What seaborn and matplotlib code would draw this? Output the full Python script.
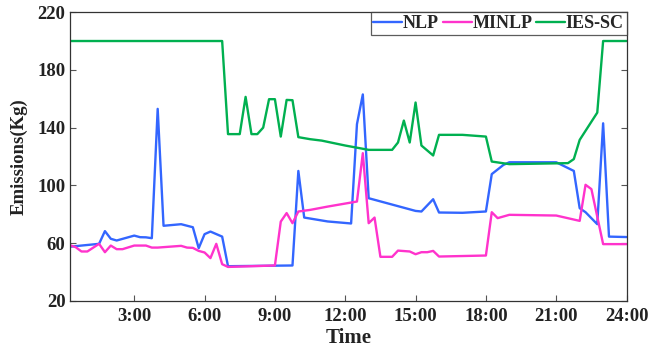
import matplotlib
matplotlib.use("Agg")
import matplotlib.pyplot as plt
import seaborn as sns
import pandas as pd

# NLP series (time in hours, emissions in kg)
nlp_t = [0.25, 1.5, 1.75, 2.0, 2.25, 3.0, 3.25, 3.5, 3.75, 4.0, 4.25, 5.0, 5.5, 5.75,
         6.0, 6.25, 6.75, 7.0, 9.75, 10.0, 10.25, 11.25, 12.25, 12.5, 12.75, 13.0,
         15.0, 15.25, 15.75, 16.0, 17.0, 18.0, 18.25, 18.75, 19.0, 21.0, 21.75, 22.0,
         22.25, 22.75, 23.0, 23.25, 24.0]
nlp_v = [57.5, 59.5, 68.3, 63.0, 61.8, 65.2, 64.1, 64.0, 63.4, 153.0, 72.0, 73.1, 71.0, 56.5,
         66.2, 68.0, 64.5, 44.0, 44.5, 110.0, 77.7, 75.0, 73.6, 142.4, 163.0, 91.1,
         82.3, 81.9, 90.4, 81.2, 81.0, 81.9, 107.8, 114.2, 116.0, 116.0, 110.0, 84.2,
         81.4, 73.1, 143.0, 64.5, 64.2]

# MINLP series
minlp_t = [0.25, 0.5, 0.75, 1.0, 1.5, 1.75, 2.0, 2.25, 2.5, 3.0, 3.5, 3.75, 4.0, 5.0, 5.25,
           5.5, 5.75, 6.0, 6.25, 6.5, 6.75, 7.0, 9.0, 9.25, 9.5, 9.75, 10.0, 10.5, 11.25,
           12.5, 12.75, 13.0, 13.25, 13.5, 14.0, 14.25, 14.75, 15.0, 15.25, 15.5, 15.75,
           16.0, 18.0, 18.25, 18.5, 19.0, 21.0, 22.0, 22.25, 22.5, 23.0, 24.0]
minlp_v = [58.6, 57.2, 54.2, 54.2, 59.5, 53.7, 58.3, 55.8, 55.8, 58.3, 58.3, 56.9, 56.9, 58.1,
           56.9, 56.7, 54.6, 53.5, 49.6, 59.5, 45.4, 43.5, 44.5, 74.9, 80.8, 73.8, 81.9,
           83.0, 85.3, 88.8, 122.3, 73.8, 77.7, 50.5, 50.5, 54.8, 54.2, 52.3, 53.7, 53.7,
           54.6, 50.7, 51.4, 81.4, 77.3, 79.6, 79.1, 75.4, 100.4, 97.4, 59.3, 59.3]

# IES-SC series
ies_t = [0.25, 6.75, 7.0, 7.5, 7.75, 8.0, 8.25, 8.5, 8.75, 9.0, 9.25, 9.5, 9.75, 10.0,
         10.5, 11.0, 12.0, 13.0, 14.0, 14.25, 14.5, 14.75, 15.0, 15.25, 15.75, 16.0,
         17.0, 18.0, 18.25, 19.0, 21.5, 21.75, 22.0, 22.75, 23.0, 24.0]
ies_v = [200.0, 200.0, 135.5, 135.5, 161.3, 135.5, 135.5, 140.0, 159.7, 159.7, 133.8, 159.2,
         159.0, 133.4, 132.0, 131.0, 127.6, 124.6, 124.6, 129.7, 144.9, 129.7, 157.4, 127.6,
         120.7, 135.0, 135.0, 133.8, 116.5, 114.7, 115.4, 118.2, 131.5, 150.4, 200.0, 200.0]

series_names = ["NLP", "MINLP", "IES-SC"]
colors = ["#3366ff", "#ff33cc", "#00b050"]
tick_hours = [3, 6, 9, 12, 15, 18, 21, 24]
tick_labels = ["3:00", "6:00", "9:00", "12:00", "15:00", "18:00", "21:00", "24:00"]
y_ticks = [20, 60, 100, 140, 180, 220]

df = pd.concat([
    pd.DataFrame({"Time": nlp_t, "Emissions": nlp_v, "Series": "NLP"}),
    pd.DataFrame({"Time": minlp_t, "Emissions": minlp_v, "Series": "MINLP"}),
    pd.DataFrame({"Time": ies_t, "Emissions": ies_v, "Series": "IES-SC"}),
], ignore_index=True)

sns.set_theme(style="white")
plt.rcParams["font.family"] = ["Liberation Serif", "DejaVu Serif"]
plt.rcParams["font.weight"] = "bold"

fig = plt.figure(figsize=(6.52, 3.47), dpi=100)
ax = fig.add_axes([0.107, 0.133, 0.854, 0.832])

sns.lineplot(data=df, x="Time", y="Emissions", hue="Series", hue_order=series_names,
             palette=colors, estimator=None, sort=False, linewidth=1.7, ax=ax)

ax.set_xlim(0.25, 24)
ax.set_ylim(20, 220)
ax.set_xticks(tick_hours)
ax.set_xticklabels(tick_labels)
ax.set_yticks(y_ticks)
ax.tick_params(axis="both", direction="in", length=4, width=0.8, color="#555555",
               labelsize=13.5, top=False, right=True, bottom=True, left=True)
ax.tick_params(axis="x", pad=5)
ax.tick_params(axis="y", pad=3)
for lbl in ax.get_xticklabels() + ax.get_yticklabels():
    lbl.set_fontweight("bold")
    lbl.set_color("#222222")
ax.set_xlabel("Time", fontsize=15, fontweight="bold", labelpad=2, color="#222222")
ax.set_ylabel("Emissions(Kg)", fontsize=13.5, fontweight="bold", labelpad=7, color="#222222")
for s in ax.spines.values():
    s.set_color("#333333")
    s.set_linewidth(0.9)

leg = ax.legend(loc="upper right", ncol=3, frameon=True, fancybox=False,
                borderaxespad=0, handlelength=1.6, handletextpad=0.05, columnspacing=0.2,
                borderpad=0.15, prop={"weight": "bold", "size": 13})
leg.get_frame().set_edgecolor("#333333")
leg.get_frame().set_linewidth(0.9)
for line in leg.get_lines():
    line.set_linewidth(1.7)

fig.savefig("out.png", dpi=100)
